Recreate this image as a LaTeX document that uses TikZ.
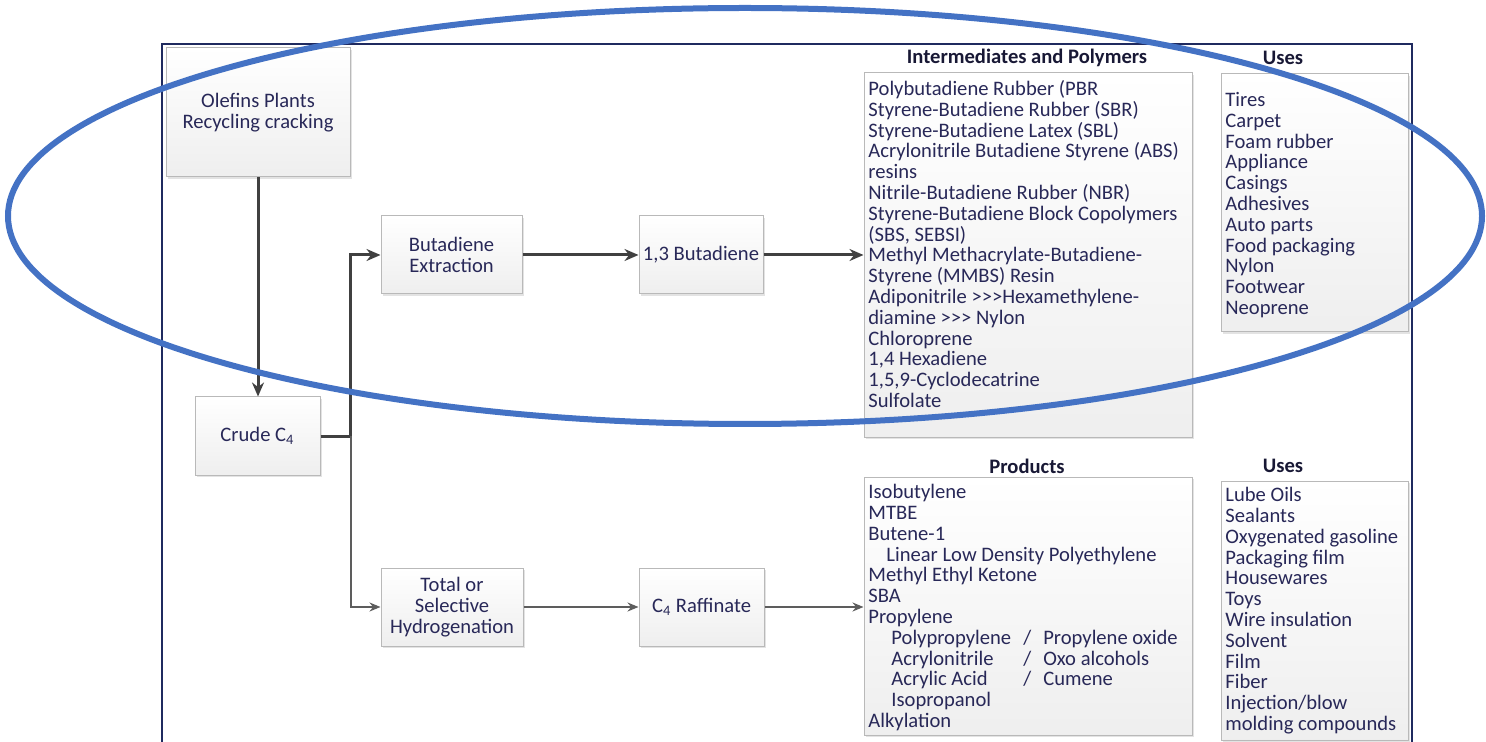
\documentclass[tikz,border=0pt]{standalone}
\usepackage{fontspec}
\setmainfont{Carlito}
\usetikzlibrary{arrows.meta,shadows}

\definecolor{inkblue}{RGB}{40,40,88}
\definecolor{flowgray}{RGB}{64,64,64}
\definecolor{ringblue}{RGB}{68,114,196}
\definecolor{framenavy}{RGB}{31,42,95}
\newcommand{\flowfont}{\fontsize{10.3pt}{10.4pt}\selectfont}
\newcommand{\colslash}[2]{\hspace*{11.5pt}\makebox[66pt][l]{#1}/\hspace{6pt}#2}
\newcommand{\tripleg}{>{}>{}>}

\tikzset{
	stepbox/.style={draw=gray!55, line width=0.5pt, top color=white, bottom color=gray!13,
		drop shadow={opacity=0.22, shadow xshift=0.8pt, shadow yshift=-0.8pt},
		text=inkblue, align=center, font=\flowfont, inner sep=0pt},
	listtext/.style={text=inkblue, align=left, font=\flowfont, inner sep=0pt, anchor=north west},
	headtext/.style={text=inkblue!60!black, font=\flowfont\bfseries, inner sep=0pt},
	mainflow/.style={draw=flowgray, line width=1.5pt, -{Stealth[length=7pt,width=6pt]}},
	sideflow/.style={draw=flowgray!85, line width=1pt, -{Stealth[length=5.5pt,width=4.5pt]}},
	ring/.style={draw=ringblue, line width=3pt}
}

\begin{document}
\begin{tikzpicture}[x=0.5pt, y=-0.5pt]
			%%%%% START %%%%%
			\useasboundingbox (0, 0) rectangle (1486, 742);
			
			\draw[framenavy, line width=1pt] (162, 742) -- (162, 44) -- (1412, 44) -- (1412, 742);
			
			% process boxes
			\node[stepbox, minimum width=92pt, minimum height=64.5pt] (olefins) at (258, 112.5) {Olefins Plants\\Recycling cracking};
			\node[stepbox, minimum width=62.5pt, minimum height=39pt] (crude) at (257.5, 436) {Crude C\textsubscript{4}};
			\node[stepbox, minimum width=70.5pt, minimum height=39pt] (butex) at (451.5, 255) {Butadiene\\Extraction};
			\node[stepbox, minimum width=62pt, minimum height=39pt] (buta) at (701, 255) {1,3 Butadiene};
			\node[stepbox, minimum width=71pt, minimum height=39pt] (hydro) at (452, 607) {Total or\\Selective\\Hydrogenation};
			\node[stepbox, minimum width=62.5pt, minimum height=39pt] (raff) at (701.5, 607) {C\textsubscript{4} Raffinate};
			
			% list boxes
			\node[stepbox, minimum width=164pt, minimum height=182pt] (inter) at (1028, 255) {};
			\node[stepbox, minimum width=93.5pt, minimum height=129pt] (usesa) at (1314.5, 203) {};
			\node[stepbox, minimum width=164pt, minimum height=129pt] (prod) at (1028, 606) {};
			\node[stepbox, minimum width=93.5pt, minimum height=129.5pt] (usesb) at (1314.5, 610.5) {};
			
			\node[headtext] (interhead) at (1027, 58) {Intermediates and Polymers};
			\node[headtext] (usesahead) at (1283, 58) {Uses};
			\node[headtext] (prodhead) at (1027, 466) {Products};
			\node[headtext] (usesbhead) at (1283, 466) {Uses};
			
			\node[listtext] (interlist) at (868, 80) {Polybutadiene Rubber (PBR\\Styrene-Butadiene Rubber (SBR)\\Styrene-Butadiene Latex (SBL)\\Acrylonitrile Butadiene Styrene (ABS)\\resins\\Nitrile-Butadiene Rubber (NBR)\\Styrene-Butadiene Block Copolymers\\(SBS, SEBSI)\\Methyl Methacrylate-Butadiene-\\Styrene (MMBS) Resin\\Adiponitrile \tripleg Hexamethylene-\\diamine \tripleg{} Nylon\\Chloroprene\\1,4 Hexadiene\\1,5,9-Cyclodecatrine\\Sulfolate};
			\node[listtext] (usesalist) at (1225, 92) {Tires\\Carpet\\Foam rubber\\Appliance\\Casings\\Adhesives\\Auto parts\\Food packaging\\Nylon\\Footwear\\Neoprene};
			\node[listtext] (prodlist) at (868, 484) {Isobutylene\\MTBE\\Butene-1\\\hspace*{9pt}Linear Low Density Polyethylene\\Methyl Ethyl Ketone\\SBA\\Propylene\\\colslash{Polypropylene}{Propylene oxide}\\\colslash{Acrylonitrile}{Oxo alcohols}\\\colslash{Acrylic Acid}{Cumene}\\\hspace*{11.5pt}Isopropanol\\Alkylation};
			\node[listtext] (usesblist) at (1225, 487) {Lube Oils\\Sealants\\Oxygenated gasoline\\Packaging film\\Housewares\\Toys\\Wire insulation\\Solvent\\Film\\Fiber\\Injection/blow\\molding compounds};
			
			% connectors
			\coordinate (split) at ([xshift=15pt]crude.east);
			\draw[mainflow] (olefins.south) -- (olefins.south |- crude.north);
			\draw[mainflow] (crude.east) -- (split) |- (butex.west);
			\draw[sideflow] (split) |- (hydro.west);
			\draw[mainflow] (butex) -- (buta);
			\draw[mainflow] (buta) -- (inter);
			\draw[sideflow] (hydro) -- (raff);
			\draw[sideflow] (raff) -- (raff -| prod.west);
			
			\draw[ring] (745, 216) ellipse [x radius=368.5pt, y radius=104pt];
			%%%%% END %%%%%
\end{tikzpicture}
\end{document}
